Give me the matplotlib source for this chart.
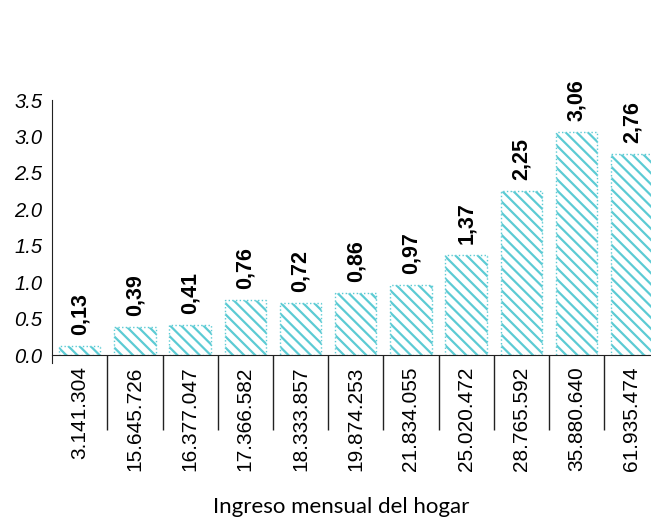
import matplotlib.pyplot as plt
from matplotlib.ticker import FixedLocator

# Data
categorias = ['3.141.304', '15.645.726', '16.377.047', '17.366.582', '18.333.857',
              '19.874.253', '21.834.055', '25.020.472', '28.765.592', '35.880.640',
              '61.935.474']
valores = [0.13, 0.39, 0.41, 0.76, 0.72, 0.86, 0.97, 1.37, 2.25, 3.06, 2.76]
etiquetas = ['0,13', '0,39', '0,41', '0,76', '0,72', '0,86', '0,97', '1,37', '2,25', '3,06', '2,76']
yticks = [0.0, 0.5, 1.0, 1.5, 2.0, 2.5, 3.0, 3.5]

color = '#5ccbd4'
plt.rcParams['hatch.linewidth'] = 1.6

fig = plt.figure(figsize=(6.51, 5.21), dpi=100)
ax = fig.add_axes([0.08, 0.318, 0.933, 0.49])

x = list(range(len(categorias)))
bars = ax.bar(x, valores, width=0.75, color='white', edgecolor=color,
              hatch='\\\\\\', linewidth=1.0, linestyle=':')

# value labels above bars
for xi, v, t in zip(x, valores, etiquetas):
    ax.text(xi, v + 0.15, t, rotation=90, ha='center', va='bottom',
            fontsize=15.5, fontweight='bold', family='Liberation Sans')

ax.set_xlim(-0.5, 10.5)
ax.set_ylim(0, 3.5)
ax.set_yticks(yticks)
ax.set_yticklabels(['%.1f' % t for t in yticks], fontsize=14.5, style='italic',
                   family='Liberation Sans')

ax.set_xticks(x)
ax.set_xticklabels(categorias, rotation=90, fontsize=15, family='Liberation Sans')
ax.tick_params(axis='x', which='major', length=0, pad=8)
ax.tick_params(axis='y', length=0, pad=7)

# separators between categories
ax.xaxis.set_minor_locator(FixedLocator([k + 0.5 for k in range(len(categorias) - 1)]))
ax.tick_params(axis='x', which='minor', length=54, width=1.0, color='#222222')

for s in ['top', 'right']:
    ax.spines[s].set_visible(False)
ax.spines['left'].set_color('#222222')
ax.spines['left'].set_bounds(-0.1, 3.5)
ax.spines['bottom'].set_color('#222222')

fig.text(0.524, 0.008, 'Ingreso mensual del hogar', ha='center', va='bottom',
         fontsize=16, family='Lato')

fig.savefig('out.png', dpi=100, facecolor='white')
